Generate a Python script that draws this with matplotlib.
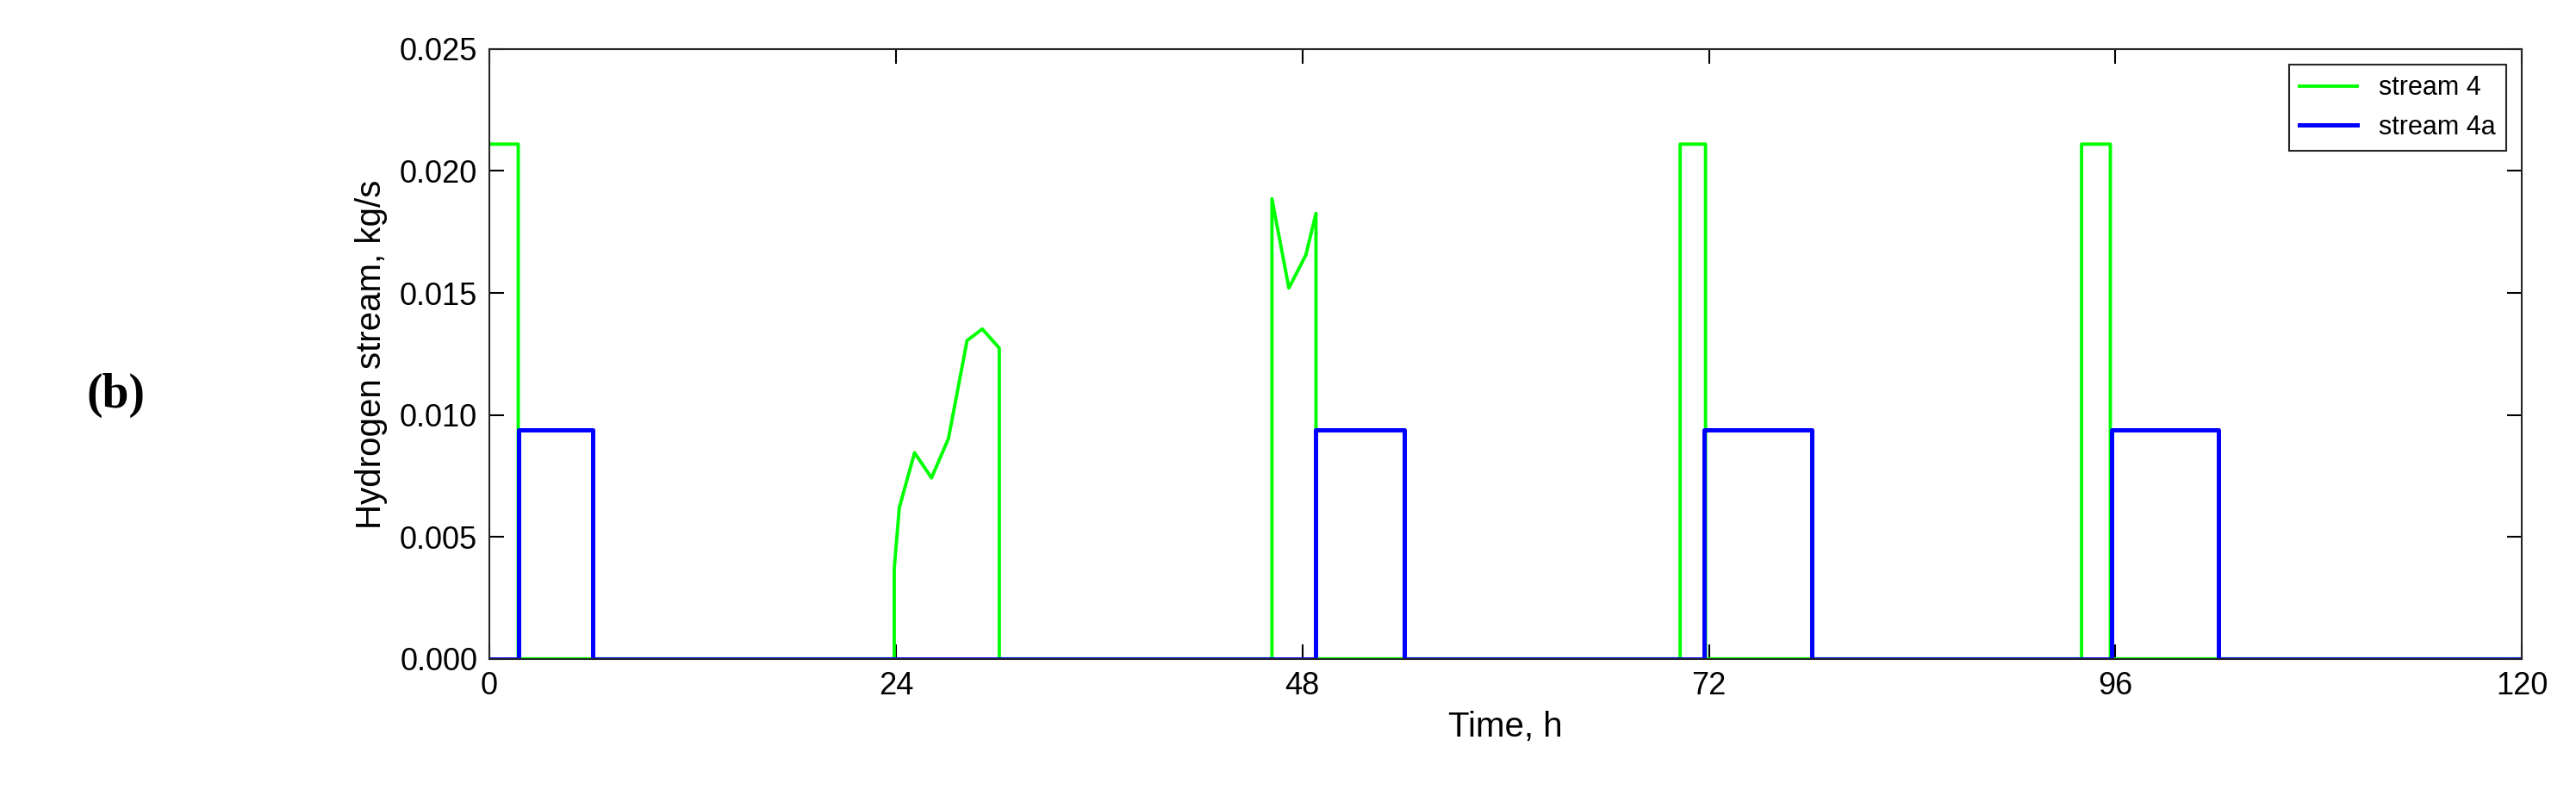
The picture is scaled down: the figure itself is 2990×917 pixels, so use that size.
import numpy as np
import matplotlib.pyplot as plt

plt.rcParams['font.family'] = ['Liberation Sans', 'DejaVu Sans']

# stream 4 (green) - time in h, value in kg/s
t4 = [0, 1.7, 1.7, 23.9, 23.9, 24.2, 25.1, 26.1, 27.1, 28.2, 29.1, 30.1, 30.1,
      46.2, 46.2, 47.2, 48.2, 48.8, 48.8, 70.3, 70.3, 71.8, 71.8,
      94.0, 94.0, 95.7, 95.7, 120]
s4 = [0.0211, 0.0211, 0, 0, 0.0037, 0.0062, 0.00845, 0.00742, 0.00903, 0.01305, 0.01352, 0.01274, 0,
      0, 0.01886, 0.0152, 0.01655, 0.01826, 0, 0, 0.0211, 0.0211, 0,
      0, 0.0211, 0.0211, 0, 0]

# stream 4a (blue)
t4a = [0, 1.7, 1.7, 6.1, 6.1, 48.8, 48.8, 54.0, 54.0, 71.7, 71.7, 78.1, 78.1,
       95.8, 95.8, 102.1, 102.1, 120]
s4a = [0, 0, 0.0094, 0.0094, 0, 0, 0.0094, 0.0094, 0, 0, 0.0094, 0.0094, 0,
       0, 0.0094, 0.0094, 0, 0]

fig = plt.figure(figsize=(29.9, 9.17), dpi=100)
ax = fig.add_axes([0.19, 0.166, 0.789, 0.772])

ax.plot(t4, s4, color='#00ff00', lw=2.8, label='stream 4')
ax.plot(t4a, s4a, color='#0000ff', lw=3.6, label='stream 4a')

ax.set_xlim(0, 120)
ax.set_ylim(0, 0.025)
ax.set_xticks([0, 24, 48, 72, 96, 120])
ax.set_yticks(np.arange(0, 0.0251, 0.005))
ax.yaxis.set_major_formatter(plt.FormatStrFormatter('%.3f'))
ax.tick_params(direction='in', top=True, right=True, length=12, width=1.5, labelsize=26, pad=10)
for s in ax.spines.values():
    s.set_linewidth(1.5)
    s.set_color('#262626')

ax.set_xlabel('Time, h', fontsize=29, labelpad=8)
ax.set_ylabel('Hydrogen stream, kg/s', fontsize=29, labelpad=10)

leg = ax.legend(loc='upper right', fontsize=22, fancybox=False, edgecolor='#262626',
                framealpha=1, handlelength=2.2, borderaxespad=0.6)
leg.get_frame().set_linewidth(1.5)

fig.text(0.045, 0.5, '(b)', fontsize=40, family='Liberation Serif', fontweight='bold',
         ha='center', va='center')

fig.savefig('out.png', dpi=100)
